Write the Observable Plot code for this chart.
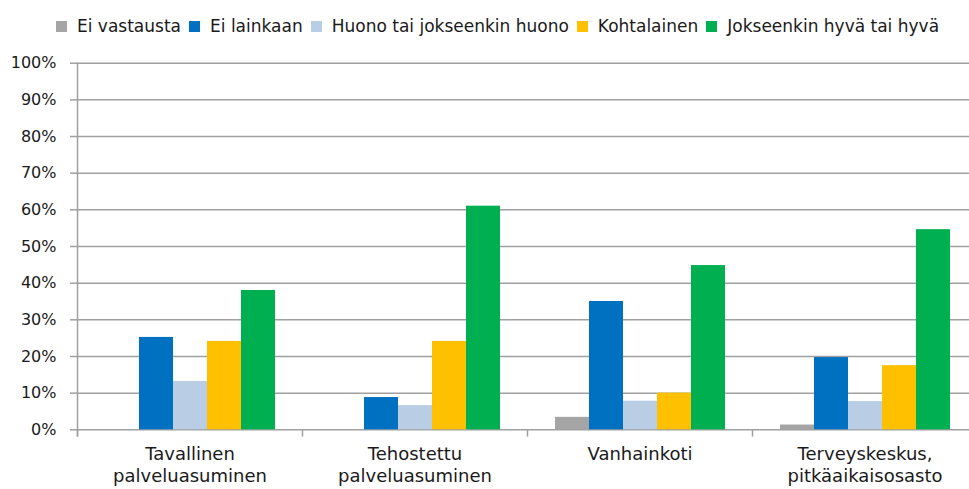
<!DOCTYPE html>
<html>
<head>
<meta charset="utf-8">
<script src="https://cdn.jsdelivr.net/npm/d3@7"></script>
<script src="https://cdn.jsdelivr.net/npm/@observablehq/plot@0.6"></script>
<style>
  html, body { margin: 0; padding: 0; background: #fff; overflow: hidden; }
  #legend { height: 40px; box-sizing: border-box; padding-top: 12px; padding-left: 56px;
    display: flex; align-items: center; font-family: "DejaVu Sans", sans-serif; font-size: 17px;
    line-height: 20px; color: #1a1a1a; white-space: nowrap; }
  #legend .item { display: flex; align-items: center; margin-right: 8px; }
  #legend .sw { width: 11px; height: 11px; margin-right: 10px; }
  #chart svg { display: block; }
</style>
</head>
<body>
<div id="legend"></div>
<div id="chart"></div>
<script>
const categories = ["Tavallinen\npalveluasuminen", "Tehostettu\npalveluasuminen", "Vanhainkoti", "Terveyskeskus,\npitkäaikaisosasto"];
const series = ["Ei vastausta", "Ei lainkaan", "Huono tai jokseenkin huono", "Kohtalainen", "Jokseenkin hyvä tai hyvä"];
const colors = ["#A5A5A5", "#0070C0", "#B9CDE5", "#FFC000", "#00B050"];
const eiVastausta = [0, 0, 3.4, 1.3];
const eiLainkaan = [25.2, 8.8, 35.0, 19.7];
const huono = [13.2, 6.6, 7.8, 7.7];
const kohtalainen = [24.1, 24.1, 10.0, 17.5];
const hyva = [38.0, 61.0, 44.8, 54.6];
const yTicks = [0, 10, 20, 30, 40, 50, 60, 70, 80, 90, 100];

const seriesValues = [eiVastausta, eiLainkaan, huono, kohtalainen, hyva];
const data = [];
categories.forEach((c, i) => series.forEach((s, j) => data.push({category: c, series: s, value: seriesValues[j][i]})));

// legend
const legend = document.getElementById("legend");
series.forEach((s, j) => {
  const it = document.createElement("div"); it.className = "item";
  const sw = document.createElement("div"); sw.className = "sw"; sw.style.background = colors[j];
  const tx = document.createElement("span"); tx.textContent = s;
  it.appendChild(sw); it.appendChild(tx); legend.appendChild(it);
});

const gridColor = "#A0A0A0";
const plot = Plot.plot({
  width: 969,
  height: 449,
  marginTop: 22.7,
  marginBottom: 59.7,
  marginLeft: 77,
  marginRight: -8,
  style: {fontFamily: "DejaVu Sans, sans-serif", color: "#1a1a1a", background: "#fff"},
  fx: {domain: categories, padding: 0, label: null},
  x: {domain: series, paddingInner: 0, paddingOuter: 0.76, axis: null},
  y: {domain: [0, 100], label: null},
  color: {domain: series, range: colors},
  marks: [
    Plot.ruleY(yTicks, {stroke: gridColor, strokeWidth: 1.5}),
    Plot.barY(data, {fx: "category", x: "series", y: "value", fill: "series"}),
    Plot.frame({anchor: "left", facetAnchor: "left", stroke: gridColor, strokeWidth: 1.5, insetBottom: -6}),
    Plot.frame({anchor: "left", stroke: gridColor, strokeWidth: 1.5, insetTop: 366.6, insetBottom: -6}),
    Plot.axisY({ticks: yTicks, tickFormat: d => d + "%", tickSize: 7, tickPadding: 14, stroke: gridColor, strokeWidth: 1.5, fontSize: 16, label: null}),
    Plot.axisFx({anchor: "bottom", tickSize: 0, tickPadding: 15, fontSize: 18, lineHeight: 1.2, label: null})
  ]
});
document.getElementById("chart").appendChild(plot);
</script>
</body>
</html>
